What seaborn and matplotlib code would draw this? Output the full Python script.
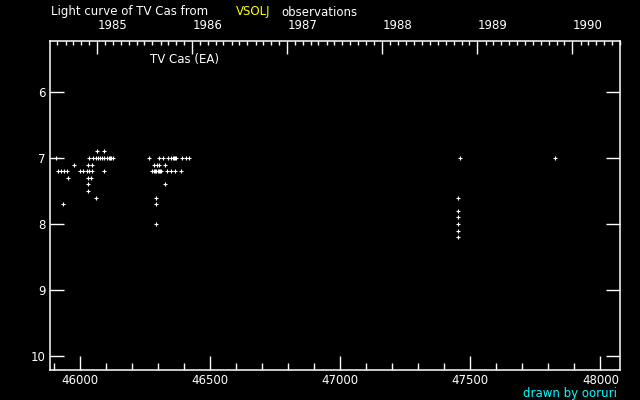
import matplotlib
matplotlib.use("Agg")
import matplotlib.pyplot as plt
from matplotlib.transforms import ScaledTranslation
from matplotlib.ticker import MultipleLocator, FixedLocator, NullFormatter
import seaborn as sns
import pandas as pd
import numpy as np

# observations, JD - 2400000 and visual magnitude
jd_8485 = [45907.8, 45914.3, 45927.0, 45939.7, 45951.2, 45955.0, 45935.8, 45978.0,
           46000.0, 46010.4, 46025.8, 46035.8, 46045.0, 46093.4, 46032.0, 46047.3,
           46032.0, 46042.3, 46032.0, 46032.0, 46062.7, 46066.5, 46093.4,
           46035.8, 46051.2, 46061.5, 46070.0, 46078.0, 46086.0, 46094.0, 46102.0,
           46110.0, 46115.3, 46119.0, 46125.7]
mag_8485 = [7.0, 7.2, 7.2, 7.2, 7.2, 7.3, 7.7, 7.1,
            7.2, 7.2, 7.2, 7.2, 7.2, 7.2, 7.1, 7.1,
            7.3, 7.3, 7.4, 7.5, 7.6, 6.9, 6.9,
            7.0, 7.0, 7.0, 7.0, 7.0, 7.0, 7.0, 7.0,
            7.0, 7.0, 7.0, 7.0]

jd_85 = [46266.4, 46304.8, 46320.2, 46339.4, 46348.6, 46358.0, 46362.4, 46366.0,
         46369.0, 46390.9, 46407.4, 46420.1,
         46285.6, 46296.0, 46304.8, 46326.7,
         46277.9, 46285.6, 46290.0, 46294.0, 46298.0, 46302.0, 46307.0, 46311.3,
         46335.5, 46350.9, 46366.3, 46389.4,
         46327.8, 46293.3, 46293.3, 46293.3]
mag_85 = [7.0, 7.0, 7.0, 7.0, 7.0, 7.0, 7.0, 7.0,
          7.0, 7.0, 7.0, 7.0,
          7.1, 7.1, 7.1, 7.1,
          7.2, 7.2, 7.2, 7.2, 7.2, 7.2, 7.2, 7.2,
          7.2, 7.2, 7.2, 7.2,
          7.4, 7.6, 7.7, 8.0]

jd_89 = [47461.6, 47826.7, 47453.9, 47453.9, 47453.9, 47453.9, 47453.9, 47453.9]
mag_89 = [7.0, 7.0, 7.6, 7.8, 7.9, 8.0, 8.1, 8.2]

years = [1985, 1986, 1987, 1988, 1989, 1990]

df = pd.DataFrame({"jd": jd_8485 + jd_85 + jd_89,
                   "mag": mag_8485 + mag_85 + mag_89})

sns.set_style("dark")
plt.rcParams["font.family"] = ["DejaVu Sans"]
plt.rcParams["font.size"] = 8.5

fig = plt.figure(figsize=(6.4, 4.0), dpi=100, facecolor="black")
ax = fig.add_axes([0.0784, 0.0743, 0.8911, 0.8239])
ax.set_facecolor("black")

sns.scatterplot(data=df, x="jd", y="mag", marker="+", color="white",
                s=9, linewidth=0.8, ax=ax, legend=False)

ax.set_xlim(45885.5, 48077)
ax.set_ylim(10.22, 5.22)
ax.set_xlabel("")
ax.set_ylabel("")
ax.grid(False)

for sp in ax.spines.values():
    sp.set_color("white")
    sp.set_linewidth(1.1)
    sp.set_visible(True)

ax.xaxis.set_major_locator(MultipleLocator(500))
ax.xaxis.set_minor_locator(MultipleLocator(100))
ax.yaxis.set_major_locator(MultipleLocator(1))
ax.tick_params(axis="x", which="major", direction="in", length=10, width=1,
               color="white", labelcolor="white", pad=3, bottom=True, top=False,
               labelsize=8.5)
ax.tick_params(axis="x", which="minor", direction="in", length=5, width=1,
               color="white", bottom=True, top=False)
ax.tick_params(axis="y", which="major", direction="in", length=10, width=1,
               color="white", labelcolor="white", pad=3.5, left=True, right=True,
               labelsize=8.5)

# calendar years on top
ax2 = ax.twiny()
ax2.set_xlim(ax.get_xlim())
year_jd = [pd.Timestamp(f"{y}-01-01").to_julian_date() - 2400000 for y in years]
months = pd.date_range("1984-08-01", "1990-07-01", freq="MS")
month_jd = [m.to_julian_date() - 2400000 for m in months]
ax2.xaxis.set_major_locator(FixedLocator(year_jd))
ax2.xaxis.set_minor_locator(FixedLocator(month_jd))
ax2.xaxis.set_minor_formatter(NullFormatter())
ax2.set_xticklabels([str(y) for y in years])
ax2.tick_params(axis="x", which="major", direction="in", length=9, width=1,
                color="white", labelcolor="white", pad=6, labelsize=8.5)
ax2.tick_params(axis="x", which="minor", direction="in", length=3, width=1,
                color="white")
for sp in ax2.spines.values():
    sp.set_visible(False)
shift = ScaledTranslation(0.155, 0, fig.dpi_scale_trans)
for lab in ax2.get_xticklabels():
    lab.set_transform(lab.get_transform() + shift)

ax.text(0.175, 0.9415, "TV Cas (EA)", transform=ax.transAxes, color="white",
        ha="left", va="center", fontsize=8.5)

fig.text(0.079, 0.97, "Light curve of TV Cas from", color="white",
         ha="left", va="center", fontsize=8.5)
fig.text(0.369, 0.97, "VSOLJ", color="#ffff00", ha="left", va="center", fontsize=8.5)
fig.text(0.440, 0.97, "observations", color="white", ha="left", va="center", fontsize=8.5)
fig.text(0.964, 0.016, "drawn by ooruri", color="#00ffff",
         ha="right", va="center", fontsize=8.5)

fig.savefig("out.png", dpi=100, facecolor="black")
